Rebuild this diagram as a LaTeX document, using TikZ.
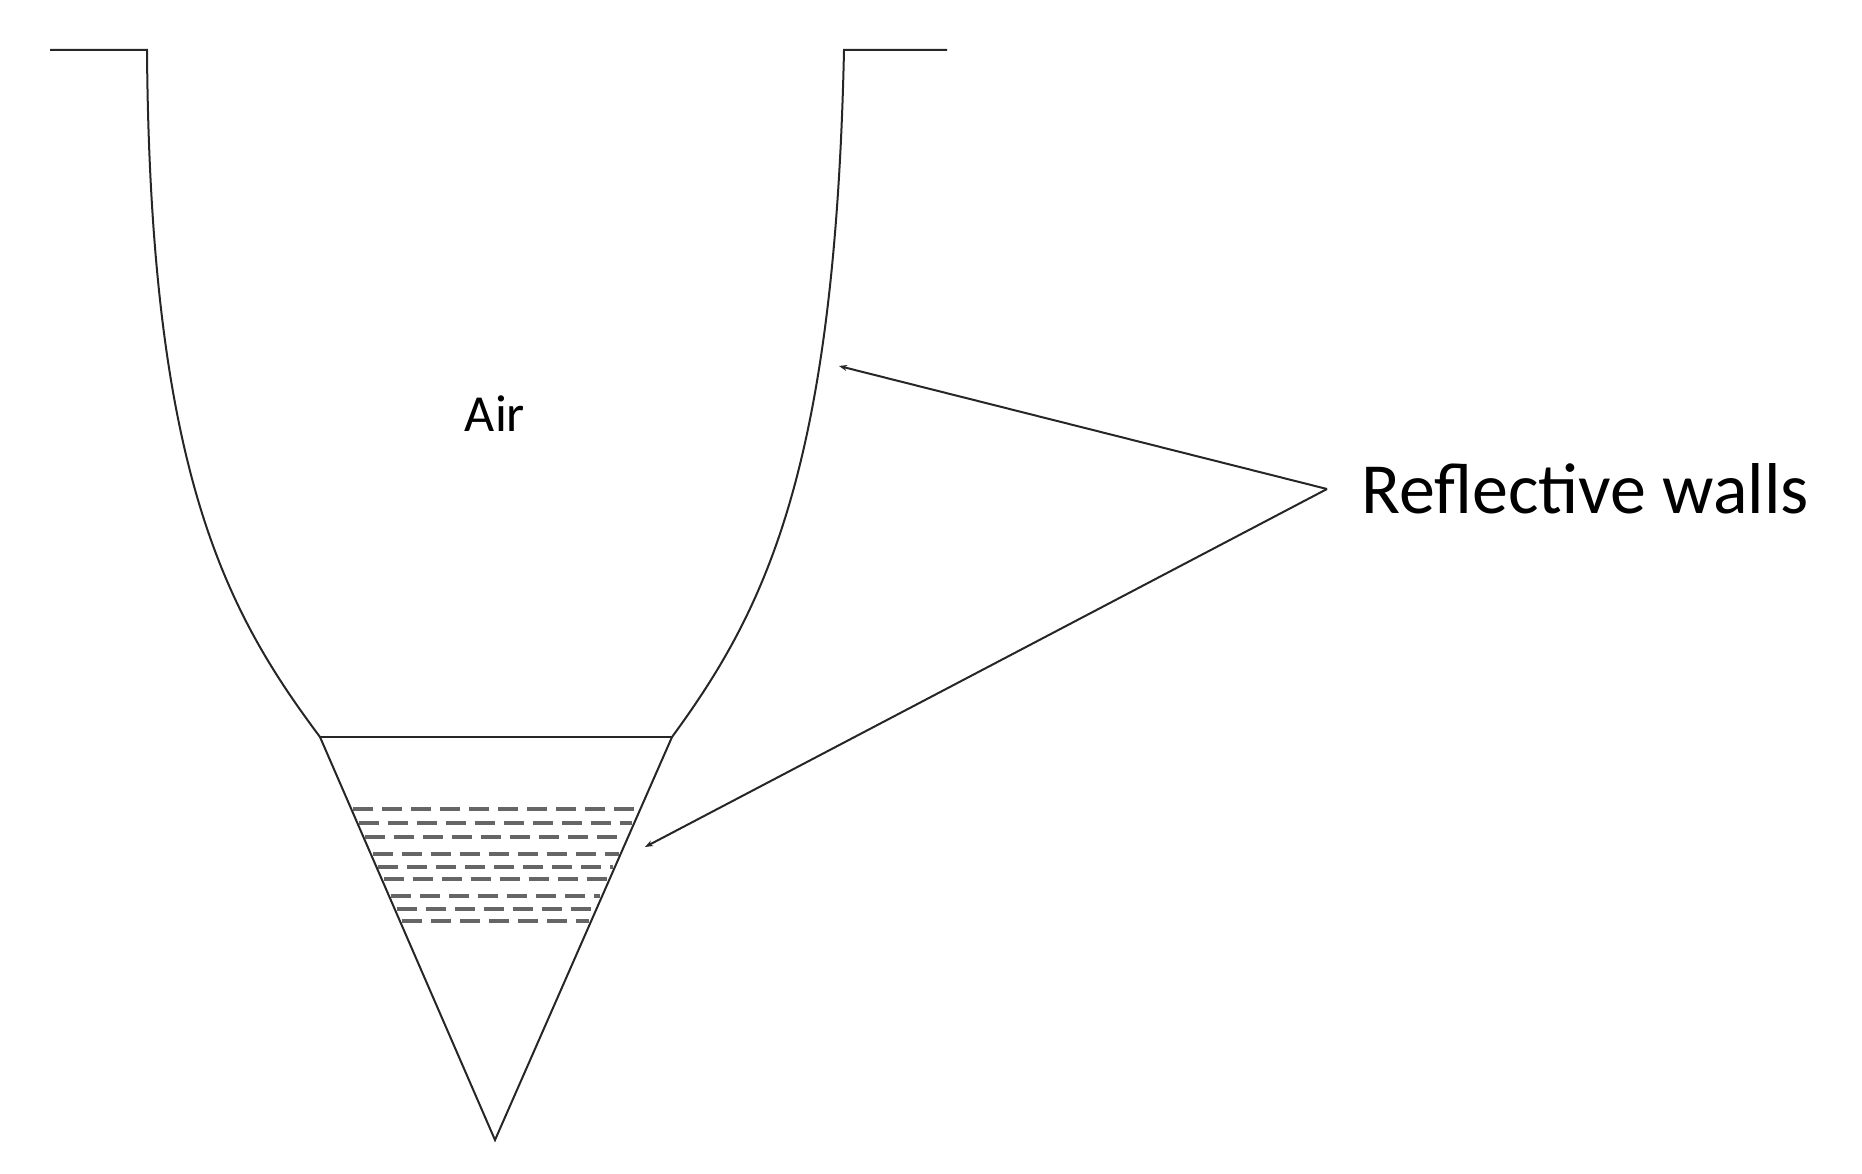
\documentclass[tikz,border=0pt]{standalone}
\usetikzlibrary{arrows.meta}
\usepackage{fontspec}
\setmainfont{Carlito}
\begin{document}
\begin{tikzpicture}[x=1pt,y=-1pt,
  wall/.style={line width=2pt,black!85},
  liquid/.style={line width=3.4pt,black!60,dash pattern=on 20pt off 9pt},
  pointer/.style={line width=2pt,black!85,-{Stealth[length=8pt,width=6pt]}}]
\useasboundingbox (0,0) rectangle (1862,1174);
\coordinate (tl) at (147,50);
\coordinate (tr) at (844,50);
\coordinate (bl) at (320,737);
\coordinate (br) at (672,737);
\coordinate (tip) at (495,1140);
\draw[wall] (50,50) -- (tl) .. controls (150,470) and (225,610) .. (bl) -- (tip) -- (br) .. controls (765,610) and (835,470) .. (tr) -- (947,50);
\draw[wall] (bl) -- (br);
\foreach \y in {809,823,837,854,867,879,896,909,921}{
  \pgfmathsetmacro{\xl}{320+(\y-737)*0.4342+2}
  \pgfmathsetmacro{\xr}{672-(\y-737)*0.4392-2}
  \draw[liquid] (\xl,\y) -- (\xr,\y);
}
\node[font=\fontsize{52}{60}\selectfont] (air) at (495,414) {Air};
\node[font=\fontsize{72}{80}\selectfont,anchor=west,inner sep=0pt] (rw) at (1361,489) {Reflective walls};
\coordinate (hub) at (1327,489);
\coordinate (a1) at (839,366);
\coordinate (a2) at (645,847);
\draw[pointer] (hub) -- (a1);
\draw[pointer] (hub) -- (a2);
\end{tikzpicture}
\end{document}
